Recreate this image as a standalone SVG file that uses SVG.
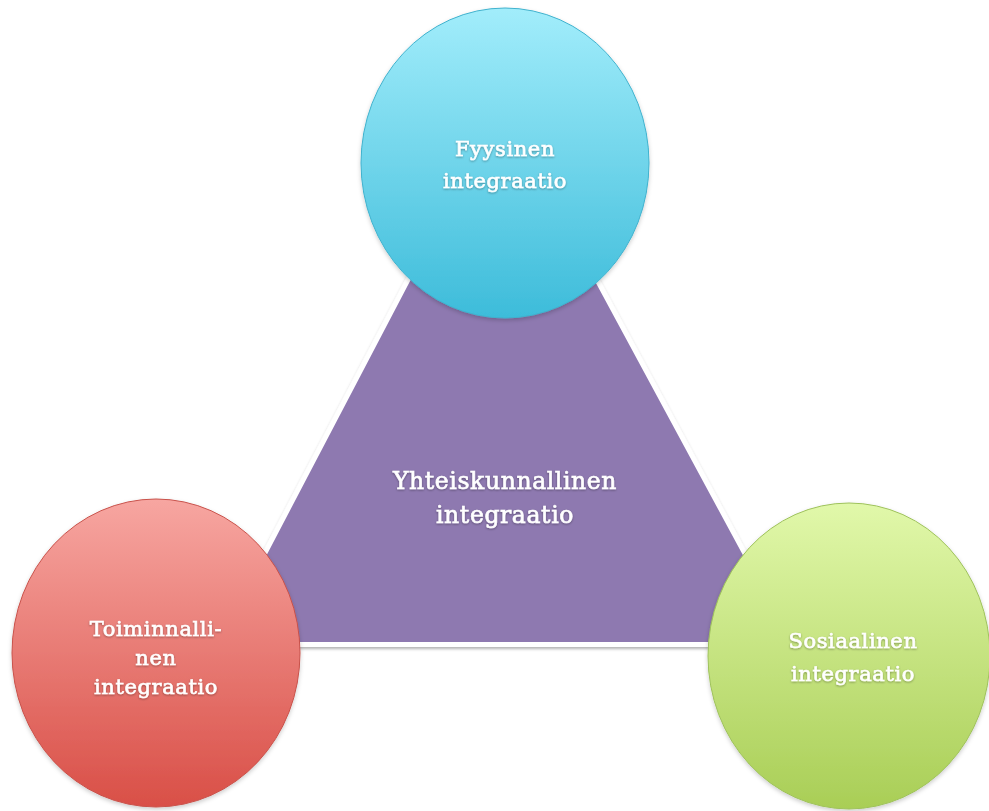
<svg xmlns="http://www.w3.org/2000/svg" width="989" height="811" viewBox="0 0 989 811">
  <defs>
    <linearGradient id="gBlue" x1="0" y1="0" x2="0" y2="1">
      <stop offset="0" stop-color="#A2EDFB"/>
      <stop offset="1" stop-color="#3DBCDA"/>
    </linearGradient>
    <linearGradient id="gRed" x1="0" y1="0" x2="0" y2="1">
      <stop offset="0" stop-color="#F7A6A1"/>
      <stop offset="1" stop-color="#D94F47"/>
    </linearGradient>
    <linearGradient id="gGreen" x1="0" y1="0" x2="0" y2="1">
      <stop offset="0" stop-color="#E1F8AA"/>
      <stop offset="1" stop-color="#A9CE56"/>
    </linearGradient>
    <filter id="triShadow" x="-10%" y="-10%" width="120%" height="120%">
      <feDropShadow dx="0" dy="2" stdDeviation="1.5" flood-color="#000" flood-opacity="0.3"/>
    </filter>
    <filter id="circShadow" x="-10%" y="-10%" width="120%" height="120%">
      <feDropShadow dx="0" dy="2" stdDeviation="2" flood-color="#000" flood-opacity="0.2"/>
    </filter>
    <filter id="txtShadow" x="-10%" y="-20%" width="120%" height="140%">
      <feDropShadow dx="0" dy="1" stdDeviation="0.8" flood-color="#000" flood-opacity="0.35"/>
    </filter>
  </defs>
  <style>
    .lbl { font-family: "DejaVu Serif", "Liberation Serif", serif; font-size: 21px; fill: #ffffff; stroke: #ffffff; stroke-width: 0.6px; text-anchor: middle; letter-spacing: 0.6px; filter: url(#txtShadow); }
    .big { font-size: 23.5px; }
  </style>
  <rect x="0" y="0" width="989" height="811" fill="#ffffff"/>

  <g id="center">
    <polygon points="501,102 217,644.5 794,644.5" fill="#8E79B0" stroke="#ffffff" stroke-width="5" stroke-linejoin="miter" filter="url(#triShadow)"/>
    <text class="lbl big" x="505" y="489">Yhteiskunnallinen</text>
    <text class="lbl big" x="505" y="523">integraatio</text>
  </g>

  <g id="connectors"></g>

  <g id="fyysinen">
    <ellipse cx="505" cy="163" rx="144" ry="155" fill="url(#gBlue)" stroke="#3FB2CE" stroke-width="1" filter="url(#circShadow)"/>
    <text class="lbl" x="505" y="156">Fyysinen</text>
    <text class="lbl" x="505" y="188">integraatio</text>
  </g>

  <g id="toiminnallinen">
    <ellipse cx="156" cy="653" rx="144" ry="154" fill="url(#gRed)" stroke="#C9514A" stroke-width="1" filter="url(#circShadow)"/>
    <text class="lbl" x="156" y="636">Toiminnalli-</text>
    <text class="lbl" x="156" y="665">nen</text>
    <text class="lbl" x="156" y="694">integraatio</text>
  </g>

  <g id="sosiaalinen">
    <ellipse cx="849" cy="656" rx="141" ry="153" fill="url(#gGreen)" stroke="#9EC25A" stroke-width="1" filter="url(#circShadow)"/>
    <text class="lbl" x="853" y="648">Sosiaalinen</text>
    <text class="lbl" x="853" y="681">integraatio</text>
  </g>
</svg>
